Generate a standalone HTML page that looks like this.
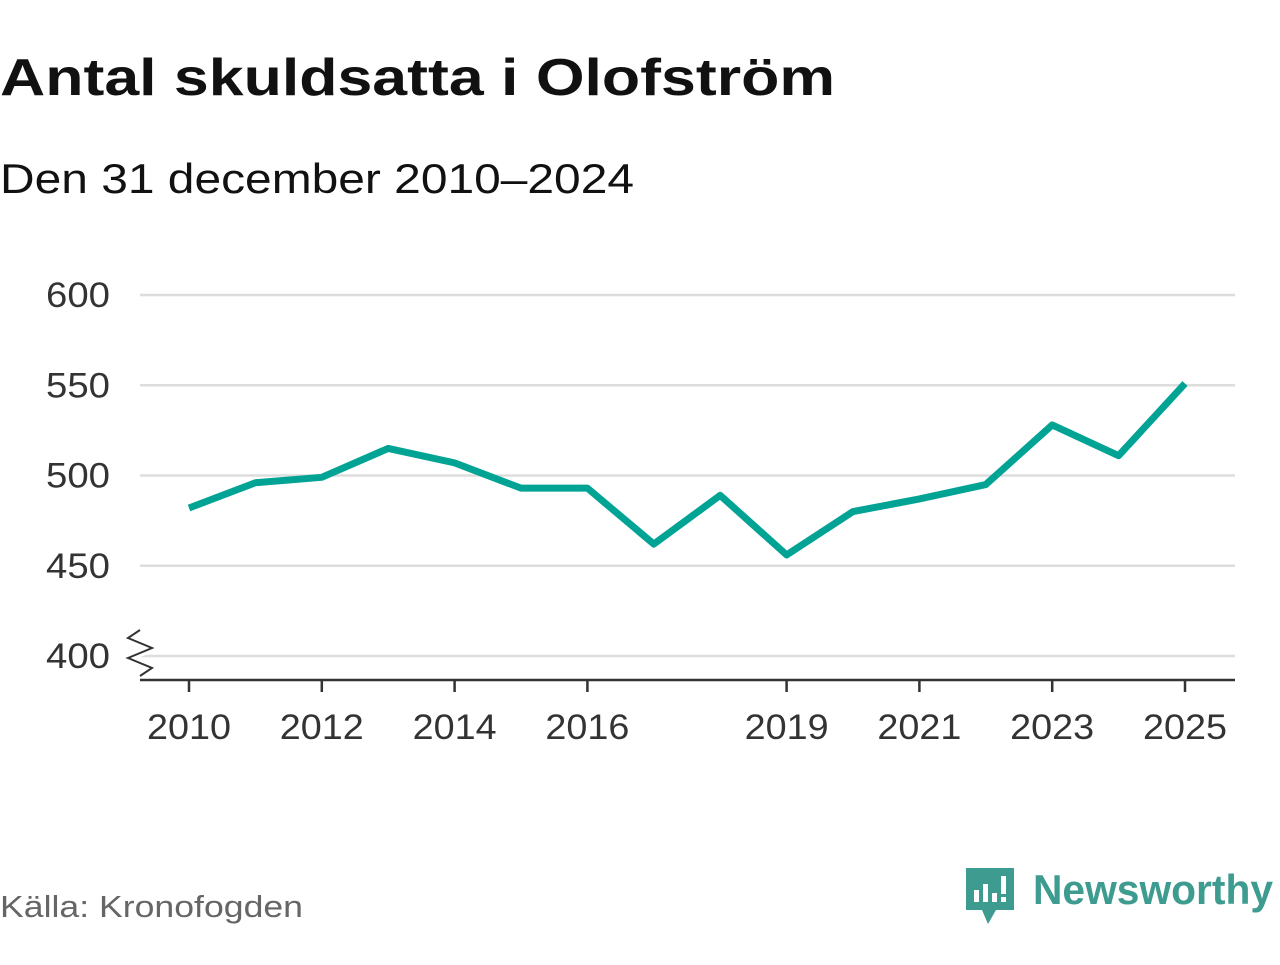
<!DOCTYPE html>
<html><head><meta charset="utf-8"><style>
body{margin:0;background:#fff;width:1280px;height:960px;overflow:hidden;font-family:"Liberation Sans","DejaVu Sans",sans-serif}
</style></head><body>
<svg width="1280" height="960">
<text x="0" y="95" font-size="52" font-weight="bold" fill="#111" textLength="835" lengthAdjust="spacingAndGlyphs">Antal skuldsatta i Olofström</text>
<text x="0" y="193" font-size="42" fill="#111" textLength="634" lengthAdjust="spacingAndGlyphs">Den 31 december 2010–2024</text>
<g id="grid"></g><g id="xaxis"></g>
<path d="M140 630 L128 638 L152 648 L128 658 L152 668" stroke="#fff" stroke-width="8" fill="none"/>
<path d="M140 630 L128 638 L152 648 L128 658 L152 668 L140 676" stroke="#333" stroke-width="2" fill="none"/>
<path id="line" fill="none" stroke="#00a394" stroke-width="7" stroke-linejoin="round"/>
<text x="0" y="917" font-size="31" fill="#666" textLength="303" lengthAdjust="spacingAndGlyphs">Källa: Kronofogden</text>
<g>
<path d="M966 868 h48 v42 h-18 l-8 14 l-6 -14 h-16 z" fill="#3e9b8f"/>
<rect x="974" y="890" width="5" height="12" fill="#fff"/><rect x="983" y="884" width="5" height="18" fill="#fff"/><rect x="992" y="893" width="5" height="9" fill="#fff"/><rect x="1001" y="876" width="5" height="18" fill="#fff"/><rect x="1001" y="897" width="5" height="5" fill="#fff"/>
<text x="1033" y="904" font-size="42" font-weight="bold" fill="#3e9b8f" textLength="240" lengthAdjust="spacingAndGlyphs">Newsworthy</text>
</g>
</svg>
<script>
const years=[2010,2011,2012,2013,2014,2015,2016,2017,2018,2019,2020,2021,2022,2023,2024,2025];
const values=[482,496,499,515,507,493,493,462,489,456,480,487,495,528,511,551];
const yTicks=[400,450,500,550,600];
const xTicks=[2010,2012,2014,2016,2019,2021,2023,2025];
const X=v=>189+(v-2010)*(1185-189)/15;
const Y=v=>656-(v-400)*(656-295)/200;
const ns="http://www.w3.org/2000/svg";
const g=document.getElementById('grid'),xa=document.getElementById('xaxis');
function mk(p,tag,attrs){const e=document.createElementNS(ns,tag);for(const k in attrs)e.setAttribute(k,attrs[k]);p.appendChild(e);return e;}
yTicks.forEach(t=>{
 const l=mk(g,'line',{x1:140,x2:1235,y1:Y(t),y2:Y(t),stroke:'#ddd','stroke-width':2.5});
 
 
 const tx=mk(g,'text',{x:110,y:Y(t)+12,'font-size':35,fill:'#333','text-anchor':'end',textLength:64,lengthAdjust:'spacingAndGlyphs'});tx.textContent=t;
 
 
});
const ax=mk(xa,'line',{x1:140,x2:1235,y1:680,y2:680,stroke:'#333','stroke-width':2.5});


xTicks.forEach(t=>{
 mk(xa,'line',{x1:X(t),x2:X(t),y1:680,y2:692,stroke:'#333','stroke-width':2.5});
 const tx=mk(xa,'text',{x:X(t),y:739,'font-size':35,fill:'#333','text-anchor':'middle',textLength:84,lengthAdjust:'spacingAndGlyphs'});tx.textContent=t;
 
 
});
document.getElementById('line').setAttribute('d',values.map((v,i)=>(i?'L':'M')+X(years[i])+' '+Y(v)).join(' '));
</script>
</body></html>
